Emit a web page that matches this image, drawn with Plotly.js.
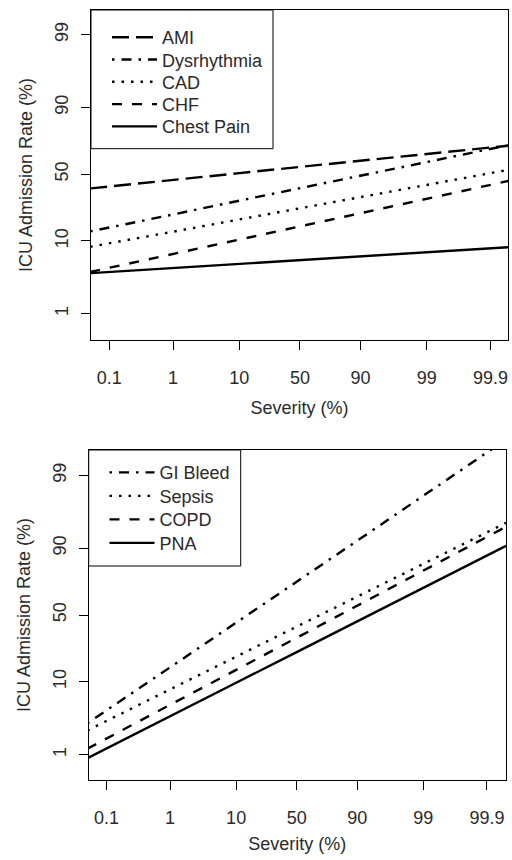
<!DOCTYPE html>
<html><head><meta charset="utf-8">
<script src="https://cdn.plot.ly/plotly-3.0.1.min.js"></script>
<style>html,body{margin:0;padding:0;background:#fff}#chart{width:512px;height:860px}</style>
</head><body><div id="chart"></div>
<script>
// Severity percentiles (x) and ICU admission rates (%)
const severity = [0.05, 0.1, 1, 10, 50, 90, 99, 99.9, 99.95];
const ami = [38.5, 40.1, 45.3, 50.9, 56.0, 60.9, 66.1, 70.7, 72.0];
const dysrhythmia = [13.2, 14.7, 21.0, 29.5, 38.7, 48.8, 59.9, 69.7, 72.4];
const cad = [8.4, 9.3, 13.1, 18.4, 24.6, 32.0, 41.3, 50.9, 53.8];
const chf = [3.85, 4.4, 6.8, 10.4, 15.2, 21.8, 30.9, 41.4, 44.7];
const chestPain = [3.70, 3.84, 4.35, 4.96, 5.57, 6.26, 7.11, 8.03, 8.32];
const giBleed = [2.75, 4.14, 15.2, 43.8, 75.0, 92.0, 98.06, 99.52, 99.69];
const sepsis = [2.19, 2.97, 7.96, 20.3, 40.6, 64.8, 84.4, 93.9, 95.4];
const copd = [1.21, 1.69, 4.95, 14.1, 32.1, 57.6, 81.1, 92.9, 94.8];
const pna = [0.887, 1.22, 3.44, 9.7, 22.8, 44.8, 71.0, 87.6, 90.7];
const xTickLabels = ['0.1', '1', '10', '50', '90', '99', '99.9'];
const yTickLabels = ['1', '10', '50', '90', '99'];

const logit = p => Math.log(p / (100 - p));
const FONT = 'Liberation Sans, Arial, sans-serif';
const TXT = '#2a2a2a';
const W = 512, H = 860;

const DASH = {
  longdash: '17px,7px',
  dashdot: '2.5px,7px,10px,7px',
  dot: '2.5px,7px',
  dash: '10px,10px',
  solid: 'solid'
};

function tr(name, ys, dash, ax, leg) {
  return {
    type: 'scatter', mode: 'lines', name: name,
    x: severity.map(logit), y: ys.map(logit),
    xaxis: ax[0], yaxis: ax[1], legend: leg,
    line: {color: '#000', width: 2.4, dash: DASH[dash]},
    hoverinfo: 'skip'
  };
}

const data = [
  tr('AMI', ami, 'longdash', ['x', 'y'], 'legend'),
  tr('Dysrhythmia', dysrhythmia, 'dashdot', ['x', 'y'], 'legend2'),
  tr('CAD', cad, 'dot', ['x', 'y'], 'legend3'),
  tr('CHF', chf, 'dash', ['x', 'y'], 'legend4'),
  tr('Chest Pain', chestPain, 'solid', ['x', 'y'], 'legend5'),
  tr('GI Bleed', giBleed, 'dashdot', ['x2', 'y2'], 'legend6'),
  tr('Sepsis', sepsis, 'dot', ['x2', 'y2'], 'legend7'),
  tr('COPD', copd, 'dash', ['x2', 'y2'], 'legend8'),
  tr('PNA', pna, 'solid', ['x2', 'y2'], 'legend9')
];

function xax(domain, range, anchor, standoff) {
  return {
    domain: domain, range: range, anchor: anchor,
    tickmode: 'array', tickvals: xTickLabels.map(Number).map(logit), ticktext: xTickLabels,
    ticks: 'outside', ticklen: 9, tickwidth: 1, tickcolor: '#000',
    ticklabelstandoff: 12,
    showline: true, mirror: true, linecolor: '#000', linewidth: 1,
    showgrid: false, zeroline: false, fixedrange: true,
    tickfont: {family: FONT, size: 18, color: TXT},
    title: {text: 'Severity (%)', font: {family: FONT, size: 18, color: TXT}, standoff: standoff}
  };
}
function yax(domain, range, anchor) {
  return {
    domain: domain, range: range, anchor: anchor,
    tickmode: 'array', tickvals: yTickLabels.map(Number).map(logit), ticktext: yTickLabels,
    ticks: 'outside', ticklen: 9, tickwidth: 1, tickcolor: '#000',
    tickangle: -90, ticklabelstandoff: 6,
    showline: true, mirror: true, linecolor: '#000', linewidth: 1,
    showgrid: false, zeroline: false, fixedrange: true,
    tickfont: {family: FONT, size: 18, color: TXT},
    title: {text: 'ICU Admission Rate (%)', font: {family: FONT, size: 18, color: TXT}, standoff: 14}
  };
}

// one legend per entry so each row sits where the reference puts it
function leg(px, py) {
  return {
    xref: 'paper', yref: 'paper', xanchor: 'left', yanchor: 'middle',
    x: px / W, y: 1 - py / H,
    bgcolor: 'rgba(0,0,0,0)', borderwidth: 0, itemwidth: 45,
    font: {family: FONT, size: 18, color: TXT}
  };
}

const layout = {
  width: W, height: H,
  margin: {l: 0, r: 0, t: 0, b: 0},
  paper_bgcolor: '#fff', plot_bgcolor: '#fff',
  showlegend: true,
  xaxis: xax([91 / W, 508 / W], [-7.57, 7.54], 'y', 14),
  yaxis: yax([1 - 340 / H, 1 - 10 / H], [-5.46, 5.41], 'x'),
  xaxis2: xax([88.7 / W, 506 / W], [-7.55, 7.60], 'y2', 10),
  yaxis2: yax([1 - 780 / H, 1 - 450 / H], [-5.43, 5.43], 'x2'),
  legend: leg(107, 37.5),
  legend2: leg(107, 59.8),
  legend3: leg(107, 82.1),
  legend4: leg(107, 104.4),
  legend5: leg(107, 126.7),
  legend6: leg(104.5, 472.7),
  legend7: leg(104.5, 496.2),
  legend8: leg(104.5, 519.7),
  legend9: leg(104.5, 543.2),
  shapes: [
    {type: 'rect', xref: 'paper', yref: 'paper', layer: 'above',
     x0: 91 / W, x1: 273 / W, y0: 1 - 148.7 / H, y1: 1 - 10 / H,
     line: {color: '#000', width: 1}, fillcolor: '#fff'},
    {type: 'rect', xref: 'paper', yref: 'paper', layer: 'above',
     x0: 88.7 / W, x1: 240.7 / W, y0: 1 - 566 / H, y1: 1 - 450 / H,
     line: {color: '#000', width: 1}, fillcolor: '#fff'}
  ]
};

Plotly.newPlot('chart', data, layout, {staticPlot: true, displayModeBar: false});
</script>
</body></html>
